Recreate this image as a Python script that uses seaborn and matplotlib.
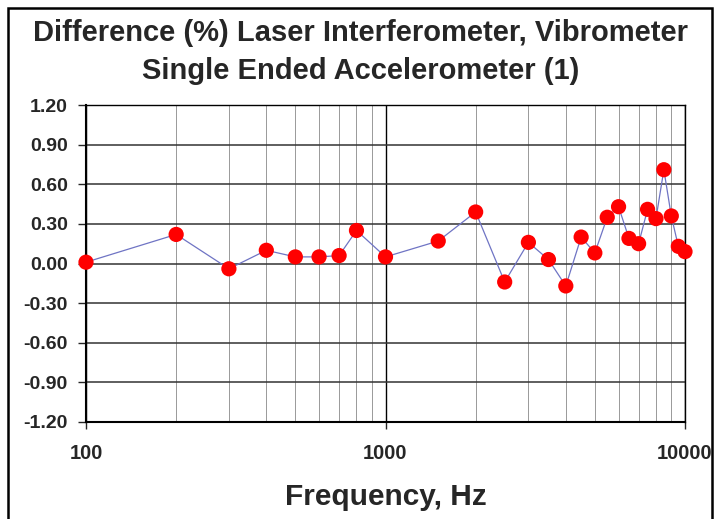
import pandas as pd
import matplotlib.pyplot as plt
import seaborn as sns
from matplotlib.patches import Rectangle
from matplotlib.ticker import FixedLocator, NullFormatter

# Data
freq_hz = [100, 200, 300, 400, 500, 600, 700, 800, 1000, 1500, 2000, 2500,
           3000, 3500, 4000, 4500, 5000, 5500, 6000, 6500, 7000, 7500, 8000,
           8500, 9000, 9500, 10000]
diff_pct = [0.01, 0.22, -0.04, 0.10, 0.05, 0.05, 0.06, 0.25, 0.05, 0.17, 0.39, -0.14,
            0.16, 0.03, -0.17, 0.20, 0.08, 0.35, 0.43, 0.19, 0.15, 0.41, 0.34,
            0.71, 0.36, 0.13, 0.09]
y_ticks = [-1.2, -0.9, -0.6, -0.3, 0.0, 0.3, 0.6, 0.9, 1.2]
x_ticks = [100, 1000, 10000]

df = pd.DataFrame({'freq': freq_hz, 'diff': diff_pct})

sns.set_style('white')
plt.rcParams['font.family'] = ['Liberation Sans', 'DejaVu Sans']

fig = plt.figure(figsize=(7.21, 5.19), dpi=100)
ax = fig.add_axes([86 / 721, 1 - 422 / 519, (685 - 86) / 721, (422 - 105) / 519])

sns.lineplot(data=df, x='freq', y='diff', color='#6f74c4', linewidth=0.9, ax=ax)
sns.scatterplot(data=df, x='freq', y='diff', color='#ff0000', edgecolor='none',
                s=120, ax=ax, zorder=3, clip_on=False)

ax.set_xscale('log')
ax.set_xlim(100, 10000)
ax.set_ylim(-1.2, 1.2)

# Grid: major y, major and minor x
ax.set_yticks(y_ticks)
ax.set_yticklabels([f'{v:.2f}' for v in y_ticks])
ax.xaxis.set_major_locator(FixedLocator(x_ticks))
ax.set_xticklabels([str(v) for v in x_ticks])
minors = [m * d for d in (100, 1000) for m in range(2, 10)]
ax.xaxis.set_minor_locator(FixedLocator(minors))
ax.xaxis.set_minor_formatter(NullFormatter())
ax.grid(True, which='major', axis='y', color='#333333', linewidth=1.1)
ax.grid(True, which='major', axis='x', color='black', linewidth=1.0)
ax.grid(True, which='minor', axis='x', color='#999999', linewidth=0.7)

for side in ['top', 'right', 'bottom', 'left']:
    ax.spines[side].set_visible(True)
    ax.spines[side].set_color('black')
    ax.spines[side].set_linewidth(1.0)
ax.spines['left'].set_linewidth(1.5)
ax.spines['bottom'].set_linewidth(1.5)

ax.tick_params(axis='y', which='major', direction='out', length=6, width=1,
               left=True, labelsize=14, pad=7)
ax.tick_params(axis='x', which='major', direction='out', length=5, width=1,
               bottom=True, labelsize=14.5, pad=11)
ax.tick_params(axis='x', which='minor', length=0)
for lab in ax.get_xticklabels() + ax.get_yticklabels():
    lab.set_fontweight('bold')

ax.set_xlabel('Frequency, Hz', fontsize=21.5, fontweight='bold', labelpad=14)
ax.set_ylabel('')

fig.text(0.5, 1 - 33 / 519, 'Difference (%) Laser Interferometer, Vibrometer',
         ha='center', va='center', fontsize=21, fontweight='bold')
fig.text(0.5, 1 - 71 / 519, 'Single Ended Accelerometer (1)',
         ha='center', va='center', fontsize=21, fontweight='bold')

# Outer chart border
fig.patches.append(Rectangle((8 / 721, -0.01), (712 - 8) / 721, 1 - 8 / 519 + 0.01,
                             transform=fig.transFigure, fill=False,
                             edgecolor='black', linewidth=1.8))

plt.savefig('out.png', dpi=100)
plt.close()
